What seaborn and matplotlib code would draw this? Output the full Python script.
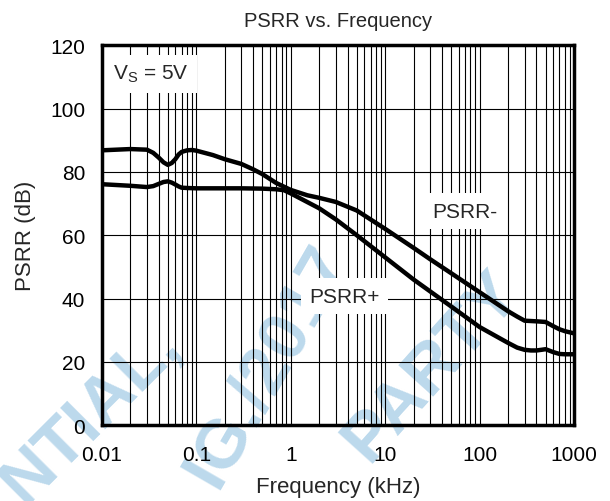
import matplotlib
matplotlib.use("Agg")
import matplotlib.pyplot as plt
import matplotlib.ticker as mticker
import seaborn as sns
import pandas as pd

# values (frequency in kHz, PSRR in dB)
freq_neg = [0.01, 0.02, 0.03, 0.035, 0.04, 0.045, 0.05, 0.055, 0.06, 0.065, 0.07,
            0.08, 0.09, 0.1, 0.15, 0.2, 0.3, 0.4, 0.5, 0.7, 1, 1.5, 2, 3, 5, 10,
            20, 30, 50, 100, 200, 250, 300, 400, 500, 600, 700, 800, 1000]
psrr_neg = [86.8, 87.2, 87.0, 86.0, 84.5, 83.0, 82.2, 82.8, 84.0, 85.5, 86.3,
            86.8, 86.9, 86.7, 85.3, 84.0, 82.5, 80.8, 79.3, 76.5, 74.3, 72.6, 71.8,
            70.5, 67.8, 62.0, 56.0, 52.4, 48.0, 42.0, 36.0, 34.3, 33.0, 32.8, 32.6,
            31.3, 30.3, 29.7, 29.0]

freq_pos = [0.01, 0.02, 0.03, 0.035, 0.04, 0.045, 0.05, 0.055, 0.06, 0.065, 0.07,
            0.08, 0.1, 0.3, 0.5, 0.7, 0.85, 1, 2, 3, 5, 10, 20, 50, 100, 200, 250,
            300, 350, 400, 450, 500, 600, 700, 800, 1000]
psrr_pos = [76.1, 75.6, 75.2, 75.5, 76.2, 76.8, 77.0, 76.6, 76.0, 75.4, 75.0,
            74.9, 74.8, 74.8, 74.7, 74.5, 74.2, 73.2, 68.5, 65.0, 60.0, 53.0, 46.0,
            37.5, 31.0, 26.0, 24.5, 23.8, 23.6, 23.6, 23.8, 24.0, 23.1, 22.5, 22.4,
            22.4]

x_ticks = [0.01, 0.1, 1, 10, 100, 1000]
x_ticklabels = ["0.01", "0.1", "1", "10", "100", "1000"]
y_ticks = [0, 20, 40, 60, 80, 100, 120]

df = pd.concat([
    pd.DataFrame({"freq": freq_neg, "psrr": psrr_neg, "curve": "PSRR-"}),
    pd.DataFrame({"freq": freq_pos, "psrr": psrr_pos, "curve": "PSRR+"}),
])

sns.set_style("white")
plt.rcParams["font.family"] = ["Liberation Sans", "DejaVu Sans"]

fig = plt.figure(figsize=(6.1, 5.02), dpi=100)
ax = fig.add_axes([0.167, 0.151, 0.774, 0.757])
ax.set_facecolor("none")
ax.set_zorder(1)

# faint watermark behind the plot (partly off the page, as in the reference)
wm = dict(color="#bcd9ec", fontsize=50, fontweight="bold", zorder=0,
          rotation_mode="anchor", ha="center", va="center")
fig.text(90 / 610, 1 - 414 / 502, "NTIAL,", rotation=45, **wm)
fig.text(268 / 610, 1 - 366 / 502, "IG./2017", rotation=60, **wm)
fig.text(432 / 610, 1 - 366 / 502, "PARTY", rotation=48, **wm)

sns.lineplot(data=df, x="freq", y="psrr", units="curve", estimator=None,
             color="black", linewidth=3.2, ax=ax, zorder=3, sort=True)

ax.set_xscale("log")
ax.set_xlim(0.01, 1000)
ax.set_ylim(0, 120)
ax.set_xticks(x_ticks)
ax.set_xticklabels(x_ticklabels)
ax.set_yticks(y_ticks)
ax.xaxis.set_minor_locator(mticker.LogLocator(base=10, subs=range(2, 10), numticks=20))
ax.xaxis.set_minor_formatter(mticker.NullFormatter())
ax.tick_params(axis="both", which="both", length=0, labelsize=15, colors="black")
ax.tick_params(axis="x", pad=14)
ax.tick_params(axis="y", pad=12)

ax.grid(True, which="both", axis="x", color="black", linewidth=0.8)
ax.grid(True, which="major", axis="y", color="black", linewidth=0.8)
ax.set_axisbelow(False)
for s in ax.spines.values():
    s.set_visible(True)
    s.set_color("black")
    s.set_linewidth(2.5)
    s.set_zorder(5)

ax.set_xlabel("Frequency (kHz)", fontsize=16, labelpad=9)
ax.set_ylabel("PSRR (dB)", fontsize=16, labelpad=10)
ax.set_title("PSRR vs. Frequency", fontsize=14.5, pad=14)

box = dict(facecolor="white", edgecolor="none", pad=6)
ax.text(0.013, 111, "V$_\\mathregular{S}$ = 5V", fontsize=15, va="center",
        ha="left", bbox=box, zorder=4)
ax.text(70, 67.6, "PSRR-", fontsize=15, va="center", ha="center", bbox=box, zorder=4)
ax.text(3.75, 40.7, "PSRR+", fontsize=15, va="center", ha="center", bbox=box, zorder=4)

fig.savefig("out.png", dpi=100)
